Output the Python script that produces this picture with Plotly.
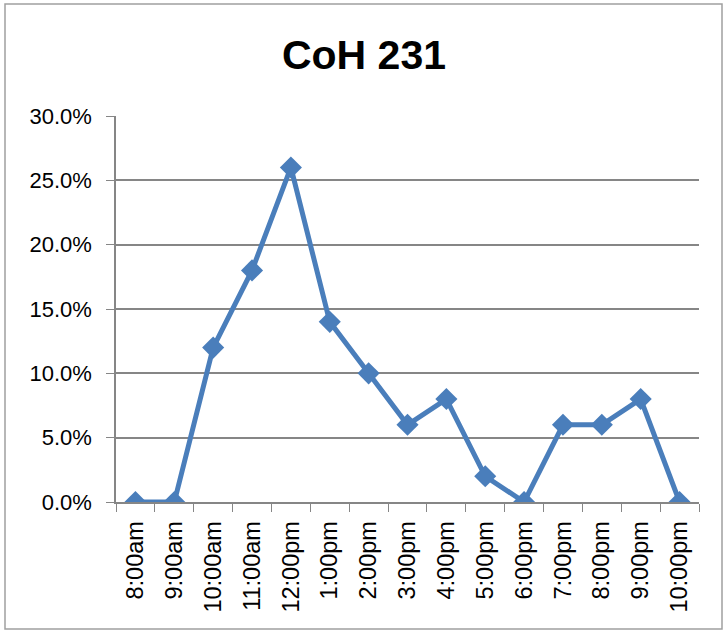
import plotly.graph_objects as go

categories = ["8:00am", "9:00am", "10:00am", "11:00am", "12:00pm", "1:00pm", "2:00pm",
              "3:00pm", "4:00pm", "5:00pm", "6:00pm", "7:00pm", "8:00pm", "9:00pm", "10:00pm"]
values = [0.0, 0.0, 0.12, 0.18, 0.26, 0.14, 0.10, 0.06, 0.08, 0.02, 0.0, 0.06, 0.06, 0.08, 0.0]
y_ticks = [0.0, 0.05, 0.10, 0.15, 0.20, 0.25, 0.30]

W, H = 728, 633
L, R, T, B = 116, 29, 116, 131
pw, ph = W - L - R, H - T - B

fig = go.Figure()
fig.add_trace(go.Scatter(
    x=categories, y=values, mode="lines+markers",
    line=dict(color="#4A7EBB", width=5),
    marker=dict(symbol="diamond", size=17, color="#4A7EBB"),
    showlegend=False,
))

fontfam = "Liberation Sans, Arial, sans-serif"
fig.update_layout(
    width=W, height=H,
    margin=dict(l=L, r=R, t=T, b=B),
    paper_bgcolor="white", plot_bgcolor="white",
    title=dict(text="<b>CoH 231</b>", x=0.5, xanchor="center", y=1 - 55 / H, yanchor="middle",
               font=dict(family=fontfam, size=41, color="black")),
    xaxis=dict(type="category", range=[-0.5, 14.5], tickangle=-90, tickson="boundaries",
               ticks="outside", ticklen=8, tickcolor="#868686", showline=True,
               linecolor="#868686", linewidth=1.5, showgrid=False, ticklabelstandoff=8,
               tickfont=dict(family=fontfam, size=23.5, color="black")),
    yaxis=dict(range=[0, 0.30], tickvals=y_ticks, tickformat=".1%", ticks="outside",
               ticklen=8, tickcolor="#868686", showline=True, linecolor="#868686",
               linewidth=1.5, showgrid=True, gridcolor="#868686", gridwidth=1.5,
               zeroline=False, ticklabelstandoff=10,
               tickfont=dict(family=fontfam, size=22, color="black")),
    shapes=[dict(type="rect", xref="paper", yref="paper",
                 x0=(5 - L) / pw, x1=(722 - L) / pw,
                 y0=(H - B - 629) / ph, y1=(H - B - 4) / ph,
                 line=dict(color="#A0A0A0", width=1.5), fillcolor="rgba(0,0,0,0)")],
)
fig.write_html("out.html", config={"displayModeBar": False},
               post_script="document.body.style.margin='0';")
